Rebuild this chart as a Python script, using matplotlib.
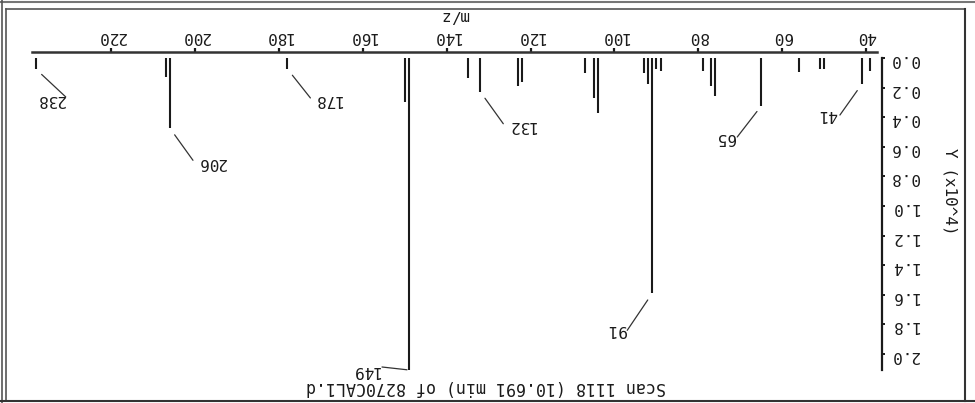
import matplotlib
matplotlib.use("Agg")
import matplotlib.pyplot as plt
from matplotlib.lines import Line2D
import numpy as np

# ---- data (m/z, abundance in counts) ----
mz = [39, 41, 50, 51, 56, 65, 76, 77, 79, 89, 90, 91, 92, 93,
      104, 105, 107, 122, 123, 132, 135, 149, 150, 178, 206, 207, 238]
abundance = [880, 1760, 740, 740, 950, 3240, 2570, 1890, 880, 880, 740, 15900, 1760, 1010,
             3700, 2680, 990, 1600, 1890, 2280, 1370, 21080, 2950, 740, 4750, 1260, 740]
labeled_peaks = [41, 65, 91, 132, 149, 178, 206, 238]
x_ticks = [40, 60, 80, 100, 120, 140, 160, 180, 200, 220]
y_ticks = [0.0, 0.2, 0.4, 0.6, 0.8, 1.0, 1.2, 1.4, 1.6, 1.8, 2.0]
title_text = "Scan 1118 (10.691 min) of 8270CAL1.d"
x_label = "m/z"
y_label = "Y (x10^4)"

# ---- layout (pixel offsets from each peak tip, display coords) ----
# (line_dx, line_dy, text_dx, text_dy, gap)
label_layout = {
    41: (-22, -31, -34, -30, 8),
    65: (-24, -31, -36, -32, 7),
    91: (-25, -37, -36, -36, 8),
    132: (23, -32, 41, -34, 8),
    149: (-27, 3, -43, 0, 2),
    178: (23, -29, 40, -31, 8),
    206: (23, -32, 41, -34, 8),
    238: (30, -28, 15, -31, 8),
}

W, H = 975, 403
fig = plt.figure(figsize=(W / 100, H / 100), dpi=100)
fig.patch.set_facecolor("white")
font = "DejaVu Sans Mono"
fs = 11.5
ink = "#1a1a1a"

ax_l, ax_r, ax_t, ax_b = 32, 877, 58, 370
ax = fig.add_axes([ax_l / W, 1 - ax_b / H, (ax_r - ax_l) / W, (ax_b - ax_t) / H])

ax.vlines(mz, 0, abundance, colors=ink, lw=1.5)

ax.set_xlim(238.9, 37.4)
ax.set_ylim(max(abundance), 0)

for s in ["left", "bottom"]:
    ax.spines[s].set_visible(False)
ax.spines["top"].set_position(("outward", 4.3))
ax.spines["right"].set_position(("outward", 3.6))
ax.spines["top"].set_linewidth(1.8)
ax.spines["top"].set_color("#333333")
ax.spines["right"].set_linewidth(1.6)
ax.spines["right"].set_color(ink)

ax.xaxis.tick_top()
ax.yaxis.tick_right()
ax.set_xticks(x_ticks)
ax.set_xticklabels([str(v) for v in x_ticks])
ax.set_yticks([v * 1e4 for v in y_ticks])
ax.set_yticklabels([f"{v:.1f}" for v in y_ticks])
ax.tick_params(axis="x", direction="out", length=3, width=1.6, pad=2.5,
               labelsize=fs, labelrotation=180, colors=ink)
ax.tick_params(axis="y", direction="out", length=2.5, width=1.4, pad=3.5,
               labelsize=fs, labelrotation=180, colors=ink)
for lab in ax.get_xticklabels() + ax.get_yticklabels():
    lab.set_fontfamily(font)

ax.set_xlabel(x_label, rotation=180, fontsize=fs, fontfamily=font, color=ink)
ax.xaxis.set_label_position("top")
ax.xaxis.label.set_va("center")
ax.xaxis.set_label_coords(0.5, 1 + (ax_t - 15) / (ax_b - ax_t))

ax.set_ylabel(y_label, rotation=270, fontsize=fs, fontfamily=font, color=ink)
ax.yaxis.set_label_position("right")
ax.yaxis.label.set_va("center")
ax.yaxis.label.set_ha("center")
ax.yaxis.set_label_coords((950 - ax_l) / (ax_r - ax_l), (ax_b - 191) / (ax_b - ax_t))

# peak labels with leader lines
for m in labeled_peaks:
    a = abundance[mz.index(m)]
    ldx, ldy, tdx, tdy, gap = label_layout[m]
    ax.annotate("", xy=(m, a), xytext=(ldx, ldy), textcoords="offset pixels",
                arrowprops=dict(arrowstyle="-", color="#333333", lw=0.9,
                                shrinkA=0, shrinkB=gap * 0.72),
                annotation_clip=False)
    ax.annotate(str(m), xy=(m, a), xytext=(tdx, tdy), textcoords="offset pixels",
                ha="center", va="center", rotation=180, fontsize=fs,
                fontfamily=font, color=ink, annotation_clip=False)

fig.text(486 / W, 1 - 387 / H, title_text, rotation=180, ha="center", va="center",
         fontsize=12, fontfamily=font, color=ink)

# frame lines (pixel coordinates)
def px_line(x0, y0, x1, y1, lw=1.2, color="#555555"):
    fig.add_artist(Line2D([x0 / W, x1 / W], [1 - y0 / H, 1 - y1 / H],
                          transform=fig.transFigure, lw=lw, color=color))

px_line(0, 1.5, W, 1.5, lw=1.5, color="#777777")
px_line(1.5, 0, 1.5, H, lw=1.2)
px_line(5.5, 8.5, 5.5, 401, lw=1.2)
px_line(5.5, 8.5, 965, 8.5, lw=1.2)
px_line(965, 8.5, 965, 401, lw=1.5, color="#333333")
px_line(0, 401, W, 401, lw=1.5, color="#333333")

fig.savefig("out.png", dpi=100, facecolor="white")
